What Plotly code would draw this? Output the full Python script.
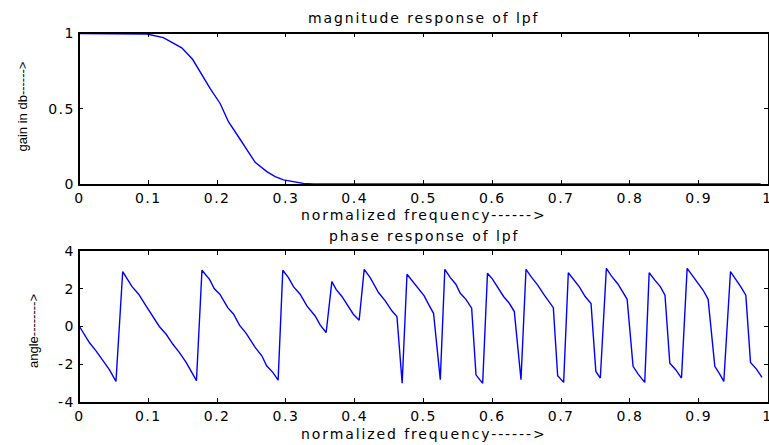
import plotly.graph_objects as go
from plotly.subplots import make_subplots

# ---- data ----
mag_freq = [0.0, 0.05, 0.0977, 0.1219, 0.1486, 0.1646, 0.1777, 0.1898, 0.2044, 0.2165,
            0.231, 0.2432, 0.2553, 0.2723, 0.2844, 0.2964, 0.311, 0.3255, 0.34, 0.99]
mag_gain = [1.0, 1.0, 0.997, 0.973, 0.905, 0.827, 0.723, 0.635, 0.535, 0.414,
            0.314, 0.226, 0.144, 0.082, 0.049, 0.027, 0.013, 0.004, 0.0, 0.0]

ph_freq = [0.0, 0.0143, 0.024, 0.0337, 0.0434, 0.053, 0.0628, 0.0764, 0.086, 0.0967,
           0.1064, 0.116, 0.126, 0.1355, 0.145, 0.155, 0.170, 0.178, 0.189, 0.196,
           0.204, 0.2155, 0.224, 0.2325, 0.242, 0.2553, 0.265, 0.272, 0.281, 0.2887,
           0.2955, 0.3037, 0.311, 0.3207, 0.3305, 0.3425, 0.35, 0.3585, 0.3668, 0.373,
           0.3814, 0.3896, 0.398, 0.4065, 0.4138, 0.4225, 0.4346, 0.4444, 0.454, 0.4614,
           0.469, 0.476, 0.484, 0.4928, 0.501, 0.508, 0.5146, 0.5244, 0.531, 0.539,
           0.547, 0.5535, 0.5617, 0.57, 0.5763, 0.586, 0.593, 0.6005, 0.6087, 0.6164,
           0.6247, 0.632, 0.6417, 0.649, 0.6563, 0.666, 0.6746, 0.6815, 0.6887, 0.695,
           0.7037, 0.7105, 0.719, 0.7265, 0.735, 0.7435, 0.7505, 0.757, 0.7658, 0.773,
           0.7828, 0.796, 0.8046, 0.812, 0.8216, 0.828, 0.836, 0.8444, 0.851, 0.858,
           0.8666, 0.875, 0.8832, 0.891, 0.899, 0.9065, 0.9137, 0.9234, 0.9306, 0.9365,
           0.9462, 0.954, 0.961, 0.9685, 0.9753, 0.984, 0.992]
ph_angle = [0.0, -0.85, -1.29, -1.81, -2.29, -2.91, 2.91, 2.11, 1.71, 1.09,
            0.56, 0.0, -0.41, -0.93, -1.37, -1.9, -2.87, 2.98, 2.5, 2.0,
            1.71, 1.0, 0.65, 0.07, -0.35, -1.11, -1.55, -2.08, -2.43, -2.84,
            2.98, 2.59, 2.11, 1.71, 1.09, 0.56, 0.07, -0.32, 2.38, 1.97,
            1.59, 1.09, 0.65, 0.33, 3.03, 2.59, 1.80, 1.36, 0.83, 0.53,
            -3.01, 2.77, 2.41, 1.97, 1.62, 1.13, 0.70, -2.82, 3.03, 2.59,
            2.24, 1.76, 1.44, 0.97, -2.56, -3.01, 2.82, 2.50, 2.01, 1.59,
            1.23, 0.79, -2.82, 3.03, 2.64, 2.19, 1.71, 1.36, 1.0, -2.61,
            -2.96, 2.85, 2.45, 2.10, 1.59, 1.22, -2.38, -2.73, 3.08, 2.68,
            2.24, 1.44, -2.11, -2.52, -2.96, 2.85, 2.47, 2.10, 1.66, -1.94,
            -2.29, -2.73, 3.08, 2.68, 2.24, 1.92, 1.44, -2.11, -2.52, -2.91,
            2.91, 2.50, 2.11, 1.66, -1.90, -2.26, -2.70]

x_ticks = [0, 0.1, 0.2, 0.3, 0.4, 0.5, 0.6, 0.7, 0.8, 0.9, 1]
x_tick_text = ["0", "0.1", "0.2", "0.3", "0.4", "0.5", "0.6", "0.7", "0.8", "0.9", "1"]
mag_y_ticks = [0, 0.5, 1]
mag_y_text = ["0", "0.5", "1"]
ph_y_ticks = [-4, -2, 0, 2, 4]
ph_y_text = ["-4", "-2", "0", "2", "4"]

W, H = 769, 445


def spaced(s, px):
    return '<span style="letter-spacing:%spx">%s</span>' % (px, s)


fig = make_subplots(rows=2, cols=1)

fig.add_trace(go.Scatter(x=mag_freq, y=mag_gain, mode="lines",
                         line=dict(color="#0000ff", width=1.4), showlegend=False), row=1, col=1)
fig.add_trace(go.Scatter(x=ph_freq, y=ph_angle, mode="lines",
                         line=dict(color="#0000ff", width=1.4), showlegend=False), row=2, col=1)

xdom = [79.5 / W, 767.5 / W]
tickfont = dict(family="DejaVu Sans", size=14, color="black")
axis_common = dict(showgrid=False, zeroline=False, showline=True, linecolor="black",
                   linewidth=1.5, mirror="ticks", ticks="inside", ticklen=4,
                   tickwidth=1, tickcolor="black", tickfont=tickfont)

fig.update_xaxes(domain=xdom, range=[0, 1], tickvals=x_ticks,
                 ticktext=[spaced(t, 1.5) for t in x_tick_text],
                 ticklabeloverflow="allow", **axis_common)
fig.update_yaxes(row=1, col=1, domain=[1 - 184 / H, 1 - 33.5 / H], range=[0, 1],
                 tickvals=mag_y_ticks, ticktext=[spaced(t, 1.5) for t in mag_y_text],
                 **axis_common)
fig.update_yaxes(row=2, col=1, domain=[1 - 402 / H, 1 - 251 / H], range=[-4, 4],
                 tickvals=ph_y_ticks, ticktext=[spaced(t, 1.5) for t in ph_y_text],
                 **axis_common)

tfont = dict(family="DejaVu Sans", size=14, color="black")
yfont = dict(family="Liberation Sans", size=13, color="black")
cx = (79.5 + 767.5) / 2 / W
annos = [
    dict(text=spaced("magnitude response of lpf", 1.9), x=cx, y=1 - 18 / H, font=tfont),
    dict(text=spaced("normalized frequency------>", 1.9), x=cx, y=1 - 214.5 / H, font=tfont),
    dict(text=spaced("phase response of lpf", 1.9), x=cx, y=1 - 235.5 / H, font=tfont),
    dict(text=spaced("normalized frequency------>", 1.9), x=cx, y=1 - 434 / H, font=tfont),
    dict(text="gain in db------>", x=22 / W, y=1 - 106.5 / H, font=yfont, textangle=-90),
    dict(text="angle-------->", x=33 / W, y=1 - 331 / H, font=yfont, textangle=-90),
]
for a in annos:
    fig.add_annotation(xref="paper", yref="paper", xanchor="center", yanchor="middle",
                       showarrow=False, **a)

fig.update_layout(width=W, height=H, margin=dict(l=0, r=0, t=0, b=0, autoexpand=False),
                  paper_bgcolor="white", plot_bgcolor="white")

fig.write_html("out.html")
